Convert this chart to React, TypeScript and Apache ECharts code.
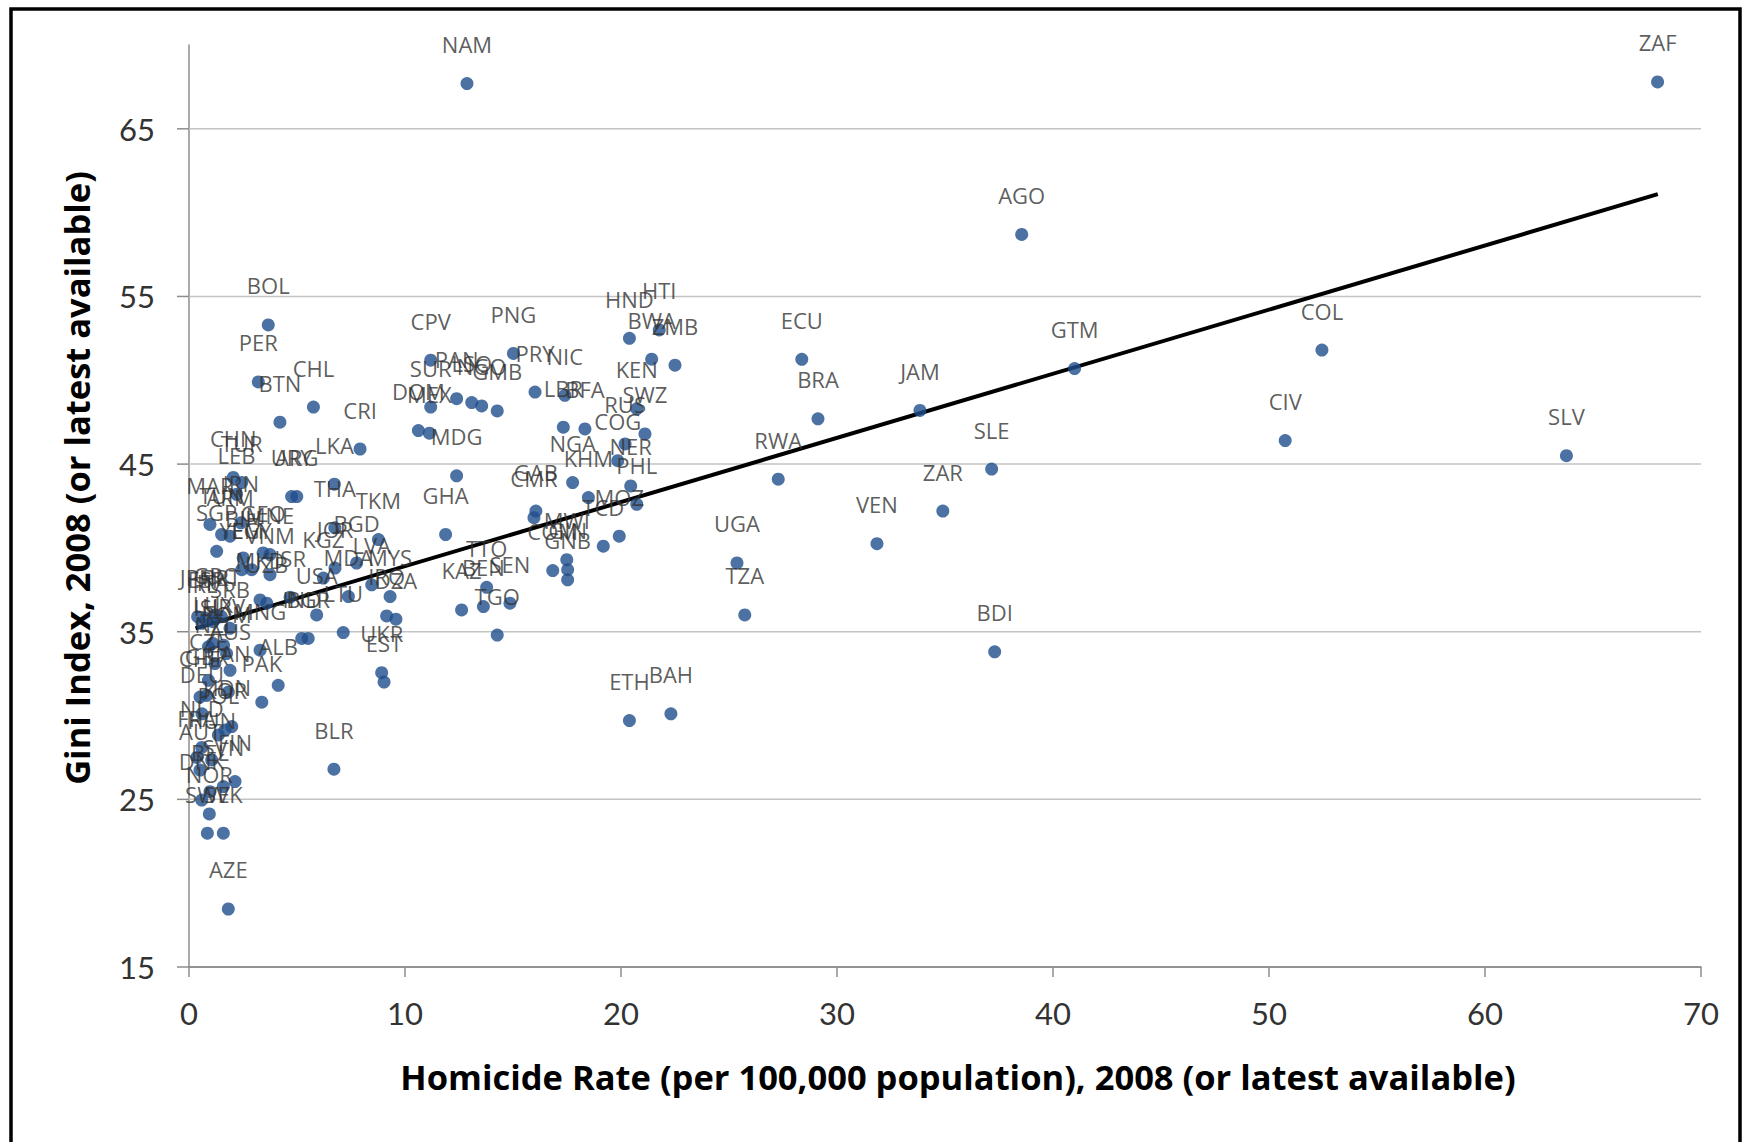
import React, { useEffect, useRef } from "react";
import * as echarts from "echarts";

const COUNTRIES = [
  "NAM", "ZAF", "AGO", "COL", "GTM", "CIV", "SLV", "SLE", "ZAR", "BDI", "VEN", "JAM", "BRA", "ECU", "RWA", "UGA", "TZA", "ETH", "BAH",
  "HND", "HTI", "BWA", "ZMB", "KEN", "SWZ", "RUS", "COG", "NGA", "NER", "KHM", "PHL", "MOZ", "TCD", "GAB", "CMR", "MWI", "COM", "GIN", "GNB",
  "TTO", "KAZ", "BEN", "SEN", "TGO", "PNG", "PRY", "NIC", "LBR", "BFA", "CPV", "SUR", "PAN", "LSO", "NGO", "GMB", "DOM", "MEX", "MDG", "GHA",
  "BOL", "PER", "BTN", "CHL", "CRI", "LKA", "URY", "ARG", "THA", "TKM", "JOR", "BGD", "KGZ", "LVA", "MDA", "MYS", "IRQ", "DZA", "USA", "LTU",
  "IND", "BGR", "UKR", "EST", "BLR", "ISR", "MKD", "UZB", "ALB", "PAK", "MNG",
  "CHN", "TUR", "LEB", "MAR", "IRN", "TUN", "ARM", "SGP", "BIH", "GEO", "MNE", "YEM", "EGY", "VNM",
  "JPN", "PRT", "ESP", "ITA", "IRL", "GRC", "SRB", "HRV", "ISL", "LUX", "ROM", "NZL", "CZE", "AUS",
  "CHE", "GBR", "CAN", "DEU", "POL", "KOR", "IDN", "NLD", "FRA", "HUN", "AUT", "FIN", "SVN", "BEL", "DNK", "NOR", "SWE", "SVK", "AZE",
];

const HOMICIDE = [
  12.87, 67.99, 38.55, 52.45, 41.0, 50.75, 63.77, 37.16, 34.9, 37.3, 31.85, 33.84, 29.12, 28.37, 27.28, 25.37, 25.73, 20.39, 22.31,
  20.39, 21.77, 21.42, 22.5, 20.73, 21.11, 20.19, 19.85, 17.76, 20.45, 18.49, 20.73, 19.92, 19.18, 16.06, 15.97, 17.49, 16.84, 17.53, 17.53,
  13.78, 12.62, 13.63, 14.86, 14.27, 15.02, 16.02, 17.4, 17.33, 18.33, 11.19, 11.19, 12.39, 13.09, 13.55, 14.27, 10.62, 11.13, 12.39, 11.88,
  3.67, 3.21, 4.21, 5.76, 7.92, 6.73, 4.75, 4.99, 6.75, 8.77, 6.76, 7.76, 6.22, 8.46, 7.38, 9.31, 9.15, 9.58, 5.91, 7.14,
  5.22, 5.52, 8.92, 9.03, 6.71, 4.68, 3.29, 3.6, 4.13, 3.37, 3.29,
  2.05, 2.44, 2.2, 0.97, 2.4, 1.51, 1.9, 1.28, 2.51, 3.43, 3.75, 2.44, 2.9, 3.75,
  0.4, 1.5, 0.8, 1.1, 0.6, 1.2, 1.9, 1.6, 0.9, 1.1, 1.74, 1.2, 0.9, 1.9,
  0.51, 0.82, 1.82, 0.6, 1.36, 1.67, 1.98, 0.59, 0.36, 1.05, 0.51, 2.13, 1.59, 0.97, 0.59, 0.94, 0.85, 1.59, 1.82,
];

const GINI = [
  67.7, 67.8, 58.7, 51.8, 50.7, 46.4, 45.5, 44.7, 42.2, 33.8, 40.25, 48.2, 47.7, 51.25, 44.1, 39.1, 36.0, 29.7, 30.1,
  52.5, 53.0, 51.26, 50.9, 48.3, 46.8, 46.2, 45.2, 43.9, 43.7, 43.0, 42.6, 40.7, 40.1, 42.2, 41.8, 39.3, 38.65, 38.7, 38.1,
  37.65, 36.3, 36.5, 36.7, 34.8, 51.6, 49.3, 49.1, 47.2, 47.1, 51.2, 48.4, 48.9, 48.67, 48.47, 48.17, 47.0, 46.84, 44.3, 40.8,
  53.3, 49.9, 47.5, 48.4, 45.9, 43.8, 43.06, 43.06, 41.2, 40.5, 38.8, 39.1, 38.2, 37.8, 37.1, 37.1, 35.94, 35.75, 36.0, 34.95,
  34.6, 34.6, 32.56, 32.0, 26.8, 37.06, 36.9, 36.7, 31.8, 30.8, 33.9,
  44.2, 43.9, 43.2, 41.4, 41.5, 40.8, 40.7, 39.8, 39.4, 39.7, 39.6, 38.7, 38.7, 38.4,
  35.9, 35.9, 35.8, 35.6, 35.5, 36.0, 35.2, 34.2, 34.1, 34.3, 33.7, 33.1, 32.1, 32.7,
  31.1, 31.2, 31.4, 30.1, 28.84, 29.14, 29.34, 28.1, 27.5, 27.35, 26.75, 26.06, 25.76, 25.46, 24.96, 24.13, 22.98, 22.98, 18.46,
];

const TREND_X = [0.3, 68];
const TREND_Y = [35.2, 61.1];

const Y_TICKS = [15, 25, 35, 45, 55, 65];

const X_TITLE = "Homicide Rate (per 100,000 population), 2008 (or latest available)";
const Y_TITLE = "Gini Index, 2008 (or latest available)";

const FONT = "Lato, 'Noto Sans', sans-serif";
const TITLE_FONT = "'Open Sans', Lato, sans-serif";
const LABEL_FONT = "'Open Sans', Lato, sans-serif";

export default function App() {
  const ref = useRef<HTMLDivElement>(null);

  useEffect(() => {
    if (!ref.current) return;
    const chart = echarts.init(ref.current, null, { renderer: "svg" });

    const points = COUNTRIES.map((name, i) => ({ name, value: [HOMICIDE[i], GINI[i]] }));
    const trend = TREND_X.map((x, i) => [x, TREND_Y[i]]);

    chart.setOption({
      animation: false,
      backgroundColor: "#ffffff",
      grid: { left: 189, right: 42, top: 45, bottom: 175, containLabel: false },
      xAxis: {
        type: "value",
        min: 0,
        max: 70,
        interval: 10,
        axisLine: { show: true, lineStyle: { color: "#8c8c8c", width: 1.5 } },
        axisTick: { show: true, length: 10, lineStyle: { color: "#8c8c8c", width: 1.5 } },
        axisLabel: { margin: 30, fontSize: 31, color: "#333333", fontFamily: FONT },
        splitLine: { show: false },
      },
      yAxis: {
        type: "value",
        min: 15,
        max: 70,
        axisLine: { show: true, lineStyle: { color: "#8c8c8c", width: 1.5 } },
        axisTick: { show: false },
        axisLabel: { show: false },
        splitLine: { show: false },
      },
      graphic: [
        {
          type: "rect",
          silent: true,
          shape: { x: 11, y: 9, width: 1729, height: 1160 },
          style: { fill: "none", stroke: "#000000", lineWidth: 3.5 },
        },
        {
          type: "text",
          x: 958,
          y: 1076,
          style: {
            text: X_TITLE,
            align: "center",
            verticalAlign: "middle",
            fontSize: 34.5,
            fontWeight: "bold",
            fontFamily: TITLE_FONT,
            fill: "#000000",
          },
        },
        {
          type: "text",
          x: 76,
          y: 478,
          rotation: Math.PI / 2,
          style: {
            text: Y_TITLE,
            align: "center",
            verticalAlign: "middle",
            fontSize: 34.5,
            fontWeight: "bold",
            fontFamily: TITLE_FONT,
            fill: "#000000",
          },
        },
      ],
      series: [
        {
          type: "custom",
          z: 1,
          silent: true,
          clip: false,
          data: Y_TICKS.map((v) => [0, v]),
          encode: { x: 0, y: 1 },
          renderItem: (params: any, api: any) => {
            const v = api.value(1);
            const p = api.coord([0, v]);
            const cs = params.coordSys;
            return {
              type: "group",
              children: [
                {
                  type: "line",
                  shape: { x1: cs.x, y1: p[1], x2: cs.x + cs.width, y2: p[1] },
                  style: { stroke: v === 15 ? "#8c8c8c" : "#c3c3c3", lineWidth: 1.5 },
                },
                {
                  type: "line",
                  shape: { x1: cs.x - 12, y1: p[1], x2: cs.x, y2: p[1] },
                  style: { stroke: "#8c8c8c", lineWidth: 1.5 },
                },
                {
                  type: "text",
                  x: cs.x - 34,
                  y: p[1],
                  style: {
                    text: String(v),
                    align: "right",
                    verticalAlign: "middle",
                    fontSize: 31,
                    fontFamily: FONT,
                    fill: "#333333",
                  },
                },
              ],
            };
          },
        },
        {
          type: "line",
          z: 2,
          silent: true,
          data: trend,
          symbol: "none",
          lineStyle: { color: "#000000", width: 4 },
        },
        {
          type: "scatter",
          z: 3,
          data: points,
          symbolSize: 13,
          itemStyle: { color: "#1f4e8c" },
          label: {
            show: true,
            position: "top",
            distance: 22,
            formatter: (p: any) => p.name,
            fontSize: 22,
            fontFamily: LABEL_FONT,
            color: "#333333",
          },
        },
      ],
    });

    return () => chart.dispose();
  }, []);

  return (
    <div
      ref={ref}
      style={{ position: "fixed", left: 0, top: 0, width: 1743, height: 1142, background: "#ffffff" }}
    />
  );
}
